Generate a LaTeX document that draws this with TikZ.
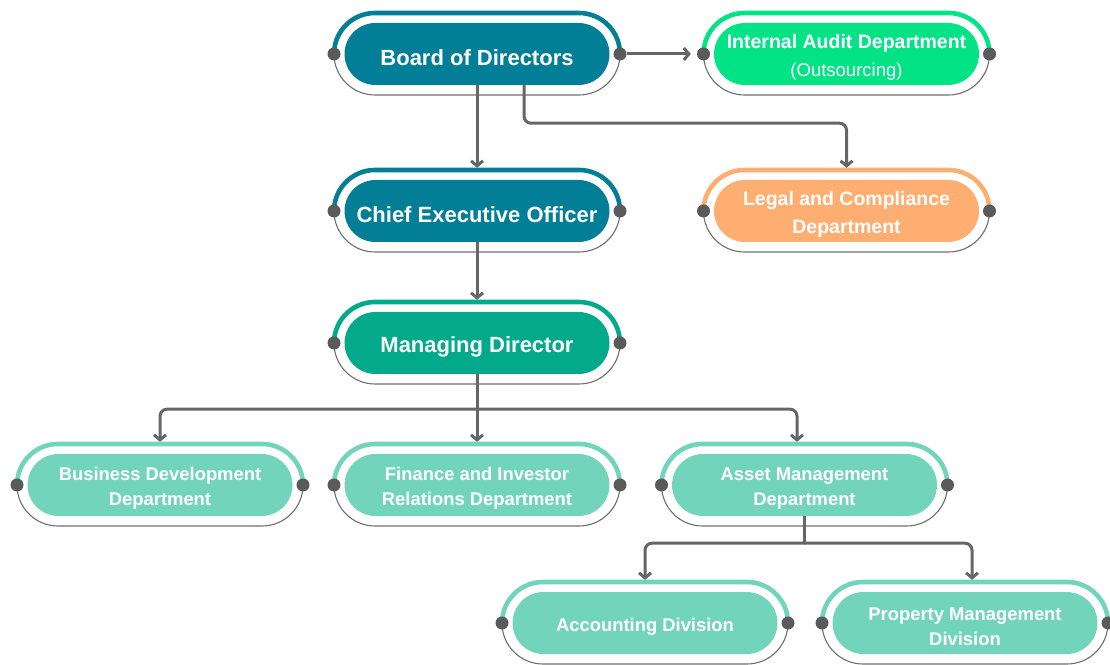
\documentclass[tikz,border=0pt]{standalone}
\usepackage{fontspec}
\setmainfont{Liberation Sans}
\usetikzlibrary{arrows.meta}
\definecolor{cteal}{HTML}{027F97}
\definecolor{cmd}{HTML}{02A98A}
\definecolor{cia}{HTML}{02E386}
\definecolor{clegal}{HTML}{FFAE71}
\definecolor{clight}{HTML}{72D5BB}
\definecolor{cdot}{HTML}{5A5A5A}
\definecolor{cline}{HTML}{666666}
\definecolor{coutl}{HTML}{6E6E6E}
\tikzset{
  pill/.style={rectangle, rounded corners=31pt, minimum width=265pt, minimum height=62pt, inner sep=0pt},
  pilltext/.style={text=white, align=center, inner sep=0pt},
  outl/.style={draw=coutl, line width=1.1pt},
  dotnode/.style={circle, fill=cdot, minimum size=13pt, inner sep=0pt},
  conn/.style={draw=cline, line width=3pt, rounded corners=7pt, -{Straight Barb[length=5pt,width=12pt]}},
  plainline/.style={draw=cline, line width=3pt},
  bigfont/.style={font=\fontsize{22}{26}\selectfont\bfseries},
  midfont/.style={font=\fontsize{19.5}{28}\selectfont\bfseries},
  smallfont/.style={font=\fontsize{18.4}{25}\selectfont\bfseries}
}
\newcommand\orgbox[5]{%
  \node[pill, fill=#3] (#1) at (#2) {};
  \node[pilltext, #4] (#1-txt) at ([yshift=-3.5pt]#1.center) {#5};
  \draw[#3, line width=4.6pt] ([xshift=-143pt]#1.center) arc[start angle=180, end angle=90, radius=41pt] -- ++(204pt,0) arc[start angle=90, end angle=0, radius=41pt];
  \draw[outl] ([xshift=-143pt]#1.center) arc[start angle=180, end angle=270, radius=41pt] -- ++(204pt,0) arc[start angle=270, end angle=360, radius=41pt];
  \node[dotnode] (#1-l) at ([xshift=-143pt]#1.center) {};
  \node[dotnode] (#1-r) at ([xshift=143pt]#1.center) {};
  \coordinate (#1-t) at ([yshift=12pt]#1.north);
}
\begin{document}
\begin{tikzpicture}[x=1pt,y=1pt]
\useasboundingbox (0,0) rectangle (1110,664);
\orgbox{bod}{477,610}{cteal}{bigfont}{Board of Directors}
\orgbox{ia}{846.5,610}{cia}{midfont}{Internal Audit Department\\{\fontsize{18.5}{28}\selectfont\mdseries (Outsourcing)}}
\orgbox{ceo}{477,453}{cteal}{bigfont}{Chief Executive Officer}
\orgbox{legal}{846.5,453}{clegal}{midfont}{Legal and Compliance\\Department}
\orgbox{md}{477,321}{cmd}{bigfont}{Managing Director}
\orgbox{bd}{160,179}{clight}{smallfont}{Business Development\\Department}
\orgbox{fin}{477,179}{clight}{smallfont}{Finance and Investor\\Relations Department}
\orgbox{asset}{804.5,179}{clight}{smallfont}{Asset Management\\Department}
\orgbox{acc}{645,41}{clight}{smallfont}{Accounting Division}
\orgbox{prop}{965,41}{clight}{smallfont}{Property Management\\Division}
% connectors
\draw[conn, shorten >=6pt] (bod-r.east) -- (ia-l);
\draw[conn] (bod.south) -- (ceo-t);
\draw[conn] ([xshift=47pt]bod.south) -- ++(0,-38) -| (legal-t);
\draw[conn] (ceo.south) -- (md-t);
\coordinate (mdj) at ([yshift=-35pt]md.south);
\draw[conn] (md.south) -- (fin-t);
\draw[conn] (mdj) -| (bd-t);
\draw[conn] (mdj) -| ([xshift=-7.5pt]asset-t);
\coordinate (aj) at ([yshift=-27pt]asset.south);
\draw[plainline] (asset.south) -- (aj);
\draw[conn] ([xshift=0.5pt]aj) -| (acc-t);
\draw[conn] ([xshift=-0.5pt]aj) -| ([xshift=7pt]prop-t);
\end{tikzpicture}
\end{document}
